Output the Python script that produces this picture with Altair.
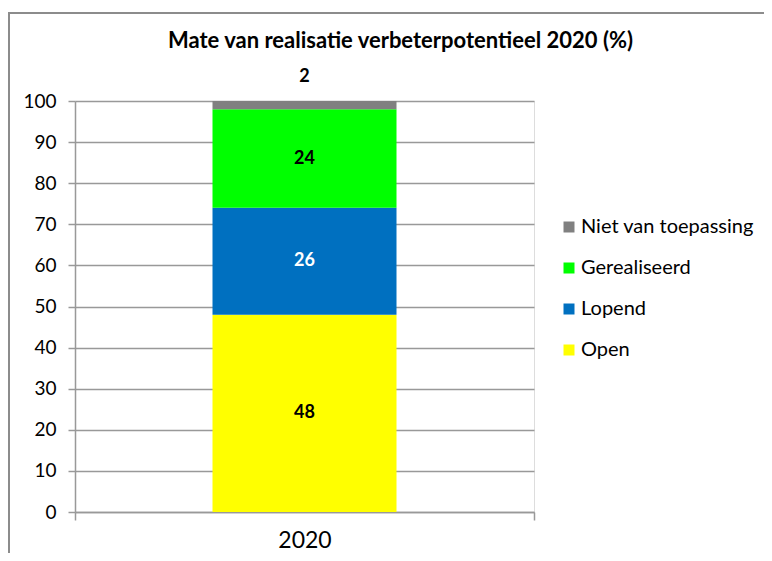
import altair as alt
import pandas as pd

year = ["2020", "2020", "2020", "2020"]
status = ["Open", "Lopend", "Gerealiseerd", "Niet van toepassing"]
values = [48, 26, 24, 2]
stack_order = [1, 2, 3, 4]

legend_order = ["Niet van toepassing", "Gerealiseerd", "Lopend", "Open"]
legend_colors = ["#808080", "#00FF00", "#0070C0", "#FFFF00"]

df = pd.DataFrame({"year": year, "status": status, "value": values, "ord": stack_order})

FONT = "Lato"
W, H = 459, 411

x_enc = alt.X("year:N", title=None,
              scale=alt.Scale(domain=["2020"], paddingInner=0, paddingOuter=0),
              axis=alt.Axis(labelAngle=0, labelFontSize=23, labelFont=FONT, labelColor="#000000",
                            labelPadding=9, tickBand="extent", ticks=True, tickSize=8,
                            tickColor="#999999", tickWidth=1.5, domainColor="#999999",
                            domainWidth=1.5, grid=False))

bars = alt.Chart(df).mark_bar(size=184).encode(
    x=x_enc,
    y=alt.Y("value:Q", stack="zero", title=None,
            scale=alt.Scale(domain=[0, 100], nice=False),
            axis=alt.Axis(values=list(range(0, 101, 10)), labelFontSize=19, labelFont=FONT,
                          labelColor="#000000", labelPadding=12, tickSize=7, tickColor="#999999",
                          tickWidth=1.5, domainColor="#999999", domainWidth=1.5,
                          grid=True, gridColor="#999999", gridWidth=1.5)),
    color=alt.Color("status:N", scale=alt.Scale(domain=legend_order, range=legend_colors),
                    legend=alt.Legend(title=None, orient="none", legendX=484, legendY=116,
                                      symbolType="square", symbolSize=121, symbolStrokeWidth=0,
                                      labelFontSize=20, labelFont=FONT, labelColor="#000000",
                                      labelOffset=2, labelLimit=400, rowPadding=21, padding=0)),
    order=alt.Order("ord:Q", sort="ascending"),
)

stacked = alt.Chart(df).transform_stack(
    stack="value", groupby=["year"], sort=[alt.SortField("ord", order="ascending")],
    as_=["y0", "y1"]
).transform_calculate(mid="(datum.y0 + datum.y1) / 2")

inner_labels = stacked.transform_filter(alt.datum.status != "Niet van toepassing").mark_text(
    fontSize=18, fontWeight="bold", font=FONT, baseline="middle"
).encode(
    x=alt.X("year:N"),
    y=alt.Y("mid:Q"),
    text=alt.Text("value:Q"),
    color=alt.condition(alt.datum.status == "Lopend", alt.value("#FFFFFF"), alt.value("#000000")),
)

top_label = stacked.transform_filter(alt.datum.status == "Niet van toepassing").mark_text(
    fontSize=18, fontWeight="bold", font=FONT, baseline="middle", dy=-24, color="#000000"
).encode(
    x=alt.X("year:N"),
    y=alt.Y("y1:Q"),
    text=alt.Text("value:Q"),
)

frame = alt.Chart(df).mark_rect(fill=None, stroke="#8c8c8c", strokeWidth=2).encode(
    x=alt.value(-66), x2=alt.value(800), y=alt.value(-88), y2=alt.value(700)
)

chart = alt.layer(frame, bars, inner_labels, top_label).properties(
    width=W, height=H,
    padding={"left": 67, "top": 93, "right": 230, "bottom": 41},
    autosize=alt.AutoSizeParams(type="none"),
    title=alt.TitleParams("Mate van realisatie verbeterpotentieel 2020 (%)", font=FONT,
                          fontSize=22, fontWeight="bold", color="#000000",
                          anchor="middle", dx=96, offset=-41),
).configure_view(stroke=None).configure(background="#FFFFFF")

chart.save("out.html", embed_options={"renderer": "svg", "actions": False})
